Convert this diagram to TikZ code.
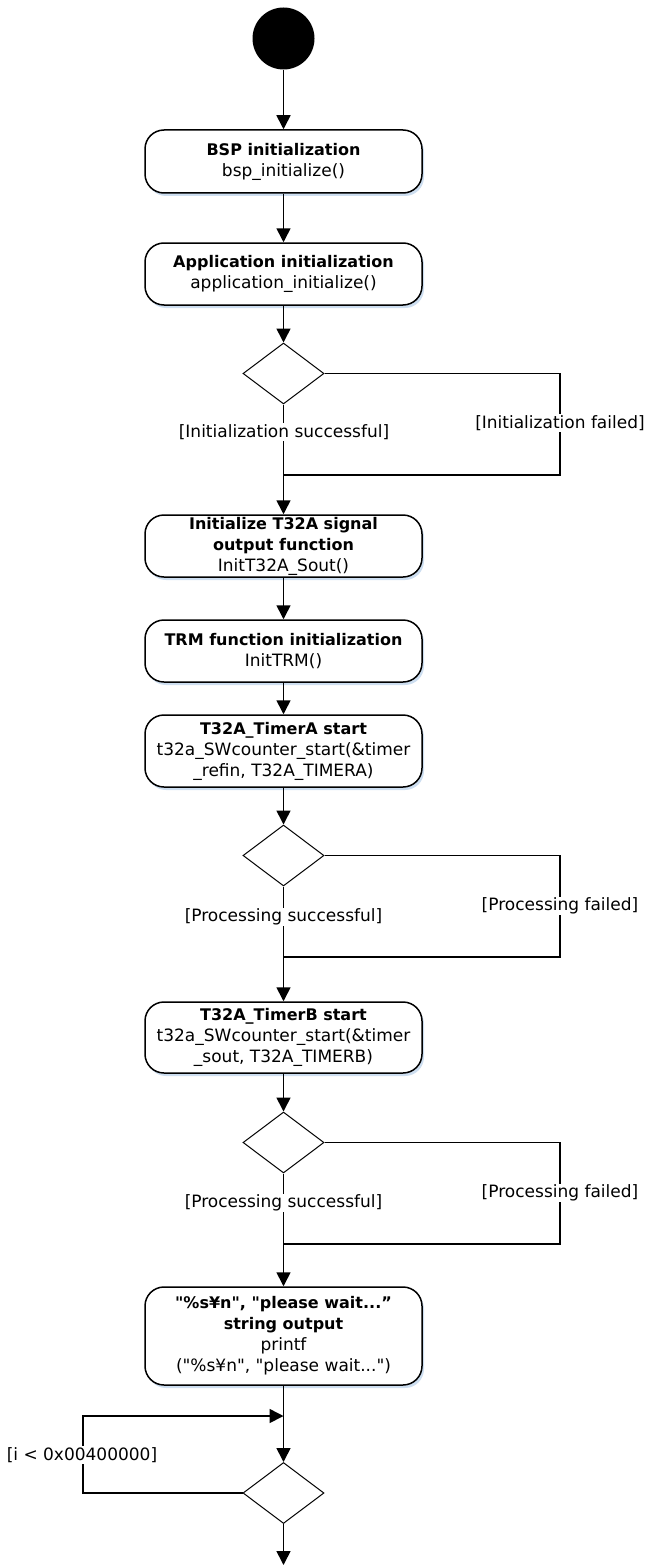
\documentclass[tikz,border=0pt]{standalone}
\usepackage{fontspec}
\setmainfont{DejaVu Sans}[Ligatures=TeXOff]
\usetikzlibrary{shapes.geometric,arrows.meta,shadows}
\newcommand\hd[1]{{\fontsize{16}{21}\selectfont\bfseries #1}}
\definecolor{shadowblue}{RGB}{205,222,240}
\begin{document}
\begin{tikzpicture}[x=1pt,y=-1pt,
 every node/.style={font=\fontsize{17}{21}\selectfont},
 act/.style={draw, line width=1.5pt, rounded corners=19pt, minimum width=277pt, inner sep=1pt, align=center, fill=white,
   drop shadow={shadow xshift=2pt, shadow yshift=-3pt, fill=shadowblue, opacity=1}},
 dec/.style={diamond, draw, line width=1pt, minimum width=81pt, minimum height=61pt, inner sep=0pt, fill=white},
 flow/.style={line width=1.6pt},
 arr/.style={flow, -{Triangle[length=14pt,width=14pt]}},
 lbl/.style={fill=white, inner sep=1pt},
]
\useasboundingbox (0,0) rectangle (648,1565);

\node[circle, fill=black, minimum size=62pt, inner sep=0pt] (start) at (283.5,38.5) {};
\node[act, minimum height=63pt] (bsp) at (283.5,161.5) {\hd{BSP initialization}\\bsp\_initialize()};
\node[act, minimum height=62pt] (app) at (283.5,274) {\hd{Application initialization}\\application\_initialize()};
\node[dec] (d1) at (283.5,373.5) {};
\coordinate (m1) at (283.5,475);
\coordinate (f1) at (560,475);
\node[act, minimum height=62pt] (sout) at (283.5,546) {\hd{Initialize T32A signal}\\\hd{output function}\\InitT32A\_Sout()};
\node[act, minimum height=62pt] (trm) at (283.5,651) {\hd{TRM function initialization}\\InitTRM()};
\node[act, minimum height=72pt] (ta) at (283.5,751) {\hd{T32A\_TimerA start}\\t32a\_SWcounter\_start(\&timer\\\_refin, T32A\_TIMERA)};
\node[dec] (d2) at (283.5,855.5) {};
\coordinate (m2) at (283.5,957);
\coordinate (f2) at (560,957);
\node[act, minimum height=71pt] (tb) at (283.5,1037.5) {\hd{T32A\_TimerB start}\\t32a\_SWcounter\_start(\&timer\\\_sout, T32A\_TIMERB)};
\node[dec] (d3) at (283.5,1142.5) {};
\coordinate (m3) at (283.5,1244);
\coordinate (f3) at (560,1244);
\node[act, minimum height=98pt] (pr) at (283.5,1336) {\hd{"\%s¥n", "please wait...”}\\\hd{string output}\\printf\\("\%s¥n", "please wait...")};
\coordinate (j) at (283.5,1416);
\node[dec] (d4) at (283.5,1493) {};
\coordinate (lp) at (83,1493);
\coordinate (end) at (283.5,1565);

\draw[arr] (start) -- (bsp);
\draw[arr] (bsp) -- (app);
\draw[arr] (app) -- (d1);
\draw[flow] (d1) -- (m1);
\draw[flow] (d1.east) -| (f1) -- (m1);
\draw[arr] (m1) -- (sout);
\draw[arr] (sout) -- (trm);
\draw[arr] (trm) -- (ta);
\draw[arr] (ta) -- (d2);
\draw[flow] (d2) -- (m2);
\draw[flow] (d2.east) -| (f2) -- (m2);
\draw[arr] (m2) -- (tb);
\draw[arr] (tb) -- (d3);
\draw[flow] (d3) -- (m3);
\draw[flow] (d3.east) -| (f3) -- (m3);
\draw[arr] (m3) -- (pr);
\draw[flow] (pr) -- (j);
\draw[arr] (j) -- (d4);
\draw[arr] (d4.west) -- (lp) |- (j);
\draw[arr] (d4) -- (end);

\node[lbl] at (284,432) {[Initialization successful]};
\node[lbl] at (560,423) {[Initialization failed]};
\node[lbl] at (283.5,917) {[Processing successful]};
\node[lbl] at (560,906) {[Processing failed]};
\node[lbl] at (283.5,1203) {[Processing successful]};
\node[lbl] at (560,1193) {[Processing failed]};
\node[lbl] at (82,1455) {[i < 0x00400000]};
\end{tikzpicture}
\end{document}
